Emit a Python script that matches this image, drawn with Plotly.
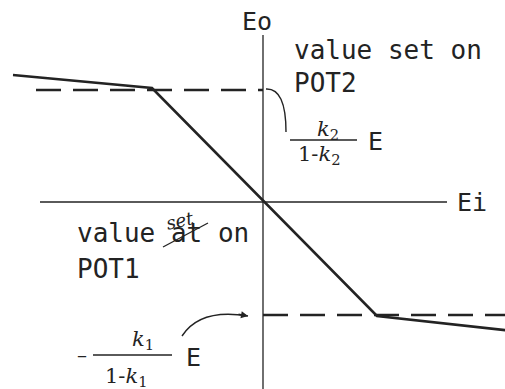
import plotly.graph_objects as go

# transfer characteristic Eo vs Ei (limiter), units are arbitrary
ei_pts = [-5.0, -2.22, 2.28, 4.9]
eo_pts = [2.54, 2.28, -2.28, -2.57]

# levels set on the two pots
pot2_level = 2.24
pot1_level = -2.26
pot2_dash_x = [-4.54, 0.0]
pot1_dash_x = [0.0, 4.9]

# axis extents
ei_axis_x = [-4.46, 3.68]
eo_axis_y = [-3.9, 3.34]

ink = '#232323'
mono = 'DejaVu Sans Mono, Liberation Mono, monospace'
hand = 'DejaVu Serif, serif'

fig = go.Figure()

# axes drawn as plain lines
fig.add_trace(go.Scatter(x=ei_axis_x, y=[0, 0], mode='lines',
                         line=dict(color=ink, width=1.3), hoverinfo='skip'))
fig.add_trace(go.Scatter(x=[0, 0], y=eo_axis_y, mode='lines',
                         line=dict(color=ink, width=1.3), hoverinfo='skip'))

# dashed limit levels
fig.add_trace(go.Scatter(x=pot2_dash_x, y=[pot2_level] * 2, mode='lines',
                         line=dict(color=ink, width=2.4, dash='25px,12px'), hoverinfo='skip'))
fig.add_trace(go.Scatter(x=pot1_dash_x, y=[pot1_level] * 2, mode='lines',
                         line=dict(color=ink, width=2.4, dash='25px,12px'), hoverinfo='skip'))

# the characteristic
fig.add_trace(go.Scatter(x=ei_pts, y=eo_pts, mode='lines',
                         line=dict(color=ink, width=2.6), hoverinfo='skip'))

def txt(x, y, s, size=26, font=mono, xanchor='left', **kw):
    fig.add_annotation(x=x, y=y, text=s, showarrow=False, xanchor=xanchor,
                       yanchor='middle', font=dict(family=font, size=size, color=ink), **kw)

txt(-0.12, 3.62, 'Eo', size=25, xanchor='center')
txt(3.84, 0.0, 'Ei', size=25)
txt(0.58, 3.04, 'value set on')
txt(0.58, 2.38, 'POT2')
txt(-3.76, -0.62, 'value at on')
txt(-3.76, -1.34, 'POT1')

# handwritten correction above "at"
txt(-1.66, -0.36, '<i>set</i>', size=18, font=hand, xanchor='center', textangle=-12)
fig.add_shape(type='line', x0=-2.0, y0=-0.9, x1=-1.1, y1=-0.42,
              line=dict(color=ink, width=1.2))

# k2 / (1-k2) E
txt(1.3, 1.44, '<i>k</i><sub>2</sub>', size=21, font=hand, xanchor='center')
fig.add_shape(type='line', x0=0.54, y0=1.24, x1=1.88, y1=1.24, line=dict(color=ink, width=1.3))
txt(1.12, 0.94, '1-<i>k</i><sub>2</sub>', size=21, font=hand, xanchor='center')
txt(2.24, 1.22, 'E', size=25, xanchor='center')

# - k1 / (1-k1) E
txt(-3.62, -3.06, '–', size=20, font=hand, xanchor='center')
txt(-2.4, -2.76, '<i>k</i><sub>1</sub>', size=21, font=hand, xanchor='center')
fig.add_shape(type='line', x0=-3.4, y0=-3.06, x1=-1.82, y1=-3.06, line=dict(color=ink, width=1.3))
txt(-2.74, -3.5, '1-<i>k</i><sub>1</sub>', size=21, font=hand, xanchor='center')
txt(-1.4, -3.1, 'E', size=25, xanchor='center')

# curved pointers to the dashed levels
fig.add_shape(type='path', path='M 0.06,2.26 Q 0.46,2.28 0.46,1.4',
              line=dict(color=ink, width=1.4))
fig.add_shape(type='path', path='M -1.62,-2.68 Q -1.26,-2.12 -0.3,-2.28',
              line=dict(color=ink, width=1.4))
fig.add_annotation(x=-0.3, y=-2.28, ax=-11, ay=-2, text='', showarrow=True,
                   arrowhead=2, arrowsize=1, arrowwidth=1.4, arrowcolor=ink, standoff=0)

fig.update_layout(
    width=505, height=389,
    margin=dict(l=0, r=0, t=0, b=0),
    paper_bgcolor='white', plot_bgcolor='white',
    showlegend=False,
    xaxis=dict(range=[-5.26, 4.84], visible=False, fixedrange=True),
    yaxis=dict(range=[-3.74, 4.04], visible=False, fixedrange=True),
)

# drop the page's default body margin so the figure sits at the window corner
fig.write_html("out.html", config={'displayModeBar': False},
               post_script="document.body.style.margin='0';")
